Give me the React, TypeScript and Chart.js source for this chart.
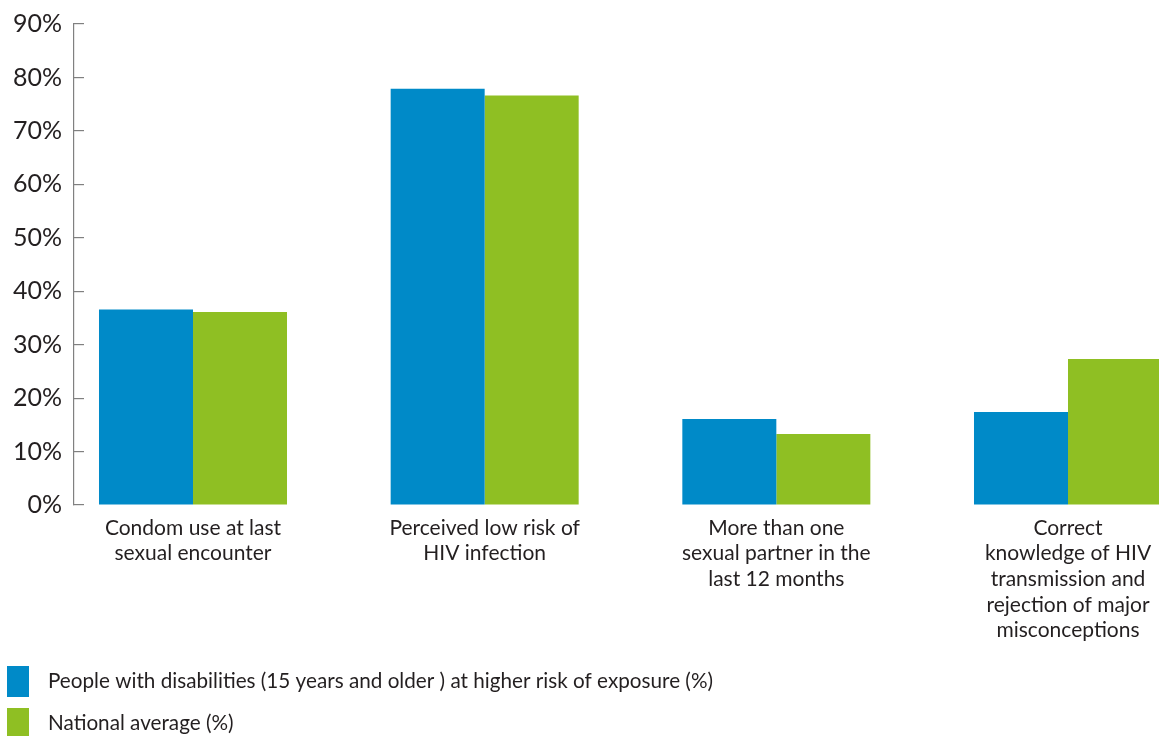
import React, { useEffect, useRef } from "react";
import { Chart, registerables } from "chart.js";

Chart.register(...registerables);

const categories: string[][] = [
  ["Condom use at last", "sexual encounter"],
  ["Perceived low risk of", "HIV infection"],
  ["More than one", "sexual partner in the", "last 12 months"],
  ["Correct", "knowledge of HIV", "transmission and", "rejection of major", "misconceptions"],
];
const disabilitiesValues = [36.6, 77.9, 16.1, 17.4];
const nationalValues = [36.1, 76.6, 13.3, 27.3];
const seriesLabels = [
  "People with disabilities (15 years and older ) at higher risk of exposure (%)",
  "National average (%)",
];
const yTicks = [0, 10, 20, 30, 40, 50, 60, 70, 80, 90];

const BLUE = "#008AC8";
const GREEN = "#8FBF23";
const TEXT = "#231F20";
const FONT = "Lato";

const legendPlugin = {
  id: "stackedLegend",
  afterDraw(chart: any) {
    const ctx = chart.ctx;
    ctx.save();
    chart.data.datasets.forEach((ds: any, i: number) => {
      const cy = 681.5 + i * 42;
      ctx.fillStyle = ds.backgroundColor;
      ctx.fillRect(7, cy - 15.5, 22, 31);
      ctx.fillStyle = TEXT;
      ctx.font = `20.7px ${FONT}`;
      ctx.textBaseline = "middle";
      ctx.textAlign = "left";
      ctx.fillText(ds.label, 48, cy);
    });
    ctx.restore();
  },
};

export default function App() {
  const ref = useRef<HTMLCanvasElement | null>(null);
  useEffect(() => {
    document.body.style.margin = "0";
    document.body.style.overflow = "hidden";
    const canvas = ref.current;
    if (!canvas) return;
    const chart = new Chart(canvas, {
      type: "bar",
      data: {
        datasets: [
          {
            label: seriesLabels[0],
            data: disabilitiesValues.map((v, i) => ({ x: i, y: v })),
            backgroundColor: BLUE,
            borderWidth: 0,
          },
          {
            label: seriesLabels[1],
            data: nationalValues.map((v, i) => ({ x: i, y: v })),
            backgroundColor: GREEN,
            borderWidth: 0,
          },
        ],
      },
      plugins: [legendPlugin],
      options: {
        responsive: false,
        animation: false,
        categoryPercentage: 0.6446,
        barPercentage: 1,
        layout: { padding: { top: 24, left: 0, right: 0, bottom: 0 } },
        plugins: {
          legend: { display: false },
          tooltip: { enabled: false },
        },
        scales: {
          x: {
            type: "linear",
            offset: false,
            bounds: "data",
            min: -0.408,
            max: 3.312,
            grid: { display: false, drawTicks: false, offset: false },
            border: { display: false },
            afterBuildTicks: (scale: any) => {
              scale.ticks = categories.map((_, i) => ({ value: i }));
            },
            afterFit: (scale: any) => {
              scale.height = 231;
              scale.paddingLeft = 0;
              scale.paddingRight = 0;
            },
            ticks: {
              autoSkip: false,
              maxRotation: 0,
              minRotation: 0,
              padding: 10,
              color: TEXT,
              font: { family: FONT, size: 21, lineHeight: 1.224 },
              callback: (v: any) => categories[v as number] ?? "",
            },
          },
          y: {
            min: 0,
            max: 90,
            afterBuildTicks: (scale: any) => {
              scale.ticks = yTicks.map((v) => ({ value: v }));
            },
            afterFit: (scale: any) => {
              scale.width = 74;
              scale.paddingTop = 0;
              scale.paddingBottom = 0;
            },
            grid: {
              drawOnChartArea: false,
              drawTicks: true,
              tickLength: -10,
              color: "#808080",
              lineWidth: 1.2,
            },
            border: { display: true, color: "#808080", width: 1.2 },
            ticks: {
              padding: 22,
              color: TEXT,
              font: { family: FONT, size: 25 },
              callback: (v: any) => `${v}%`,
            },
          },
        },
      } as any,
    });
    return () => chart.destroy();
  }, []);
  return <canvas ref={ref} width={1159} height={736} style={{ display: "block" }} />;
}
